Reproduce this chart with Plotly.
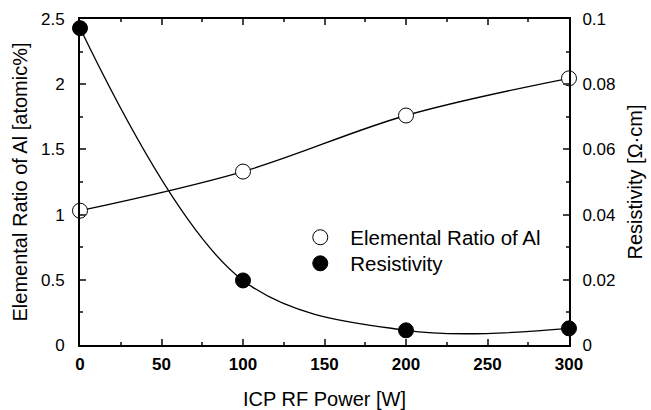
import plotly.graph_objects as go

power = [0, 100, 200, 300]
al_ratio = [1.03, 1.33, 1.76, 2.045]
resistivity = [0.0972, 0.0198, 0.0045, 0.0051]

FONT = "Liberation Sans, Arial, sans-serif"

fig = go.Figure()
# smooth curves (no legend entry)
fig.add_trace(go.Scatter(
    x=power, y=al_ratio, mode="lines", showlegend=False,
    line=dict(color="black", width=1.3, shape="spline", smoothing=1.0), yaxis="y"))
fig.add_trace(go.Scatter(
    x=power, y=resistivity, mode="lines", showlegend=False,
    line=dict(color="black", width=1.3, shape="spline", smoothing=1.0), yaxis="y2"))
# markers (legend entries)
fig.add_trace(go.Scatter(
    x=power, y=al_ratio, name="Elemental Ratio of Al", mode="markers",
    marker=dict(symbol="circle", size=15, color="white", line=dict(color="black", width=1)),
    cliponaxis=False, yaxis="y", legend="legend"))
fig.add_trace(go.Scatter(
    x=power, y=resistivity, name="Resistivity", mode="markers",
    marker=dict(symbol="circle", size=15, color="black", line=dict(color="black", width=1)),
    cliponaxis=False, yaxis="y2", legend="legend2"))

leg_common = dict(xanchor="left", yanchor="middle", bgcolor="rgba(0,0,0,0)",
                  font=dict(size=20.5, family=FONT), itemwidth=50)

fig.update_layout(
    width=651, height=410,
    margin=dict(l=80, r=82, t=19, b=65, autoexpand=False),
    plot_bgcolor="white", paper_bgcolor="white",
    font=dict(family=FONT, size=17, color="black"),
    showlegend=True,
    legend=dict(x=0.43, y=0.330, **leg_common),
    legend2=dict(x=0.43, y=0.250, **leg_common),
    xaxis=dict(range=[0, 300], tickmode="linear", tick0=0, dtick=50, automargin=False,
               ticks="inside", ticklen=6, tickwidth=2, showline=True, linewidth=2,
               linecolor="black", mirror="ticks", showgrid=False, zeroline=False,
               tickfont=dict(size=17, family=FONT, weight="bold"), ticklabelstandoff=3,
               minor=dict(ticks="inside", ticklen=3, tickwidth=2, dtick=25, showgrid=False),
               title=dict(text="ICP RF Power [W]", font=dict(size=20), standoff=20)),
    yaxis=dict(range=[0, 2.5], tickmode="linear", tick0=0, dtick=0.5, automargin=False,
               ticks="inside", ticklen=6, tickwidth=2, showline=True, linewidth=2,
               linecolor="black", showgrid=False, zeroline=False,
               tickfont=dict(size=17), ticklabelstandoff=10,
               minor=dict(ticks="inside", ticklen=3, tickwidth=2, dtick=0.25, showgrid=False),
               title=dict(text="Elemental Ratio of Al [atomic%]", font=dict(size=20), standoff=8)),
    yaxis2=dict(range=[0, 0.1], tickmode="linear", tick0=0, dtick=0.02, automargin=False,
                overlaying="y", side="right",
                ticks="inside", ticklen=6, tickwidth=2, showline=True, linewidth=2,
                linecolor="black", showgrid=False, zeroline=False,
                tickfont=dict(size=17), ticklabelstandoff=8,
                minor=dict(ticks="inside", ticklen=3, tickwidth=2, dtick=0.01, showgrid=False),
                title=dict(text="Resistivity [Ω·cm]", font=dict(size=20), standoff=14)),
)

fig.write_html("out.html")
